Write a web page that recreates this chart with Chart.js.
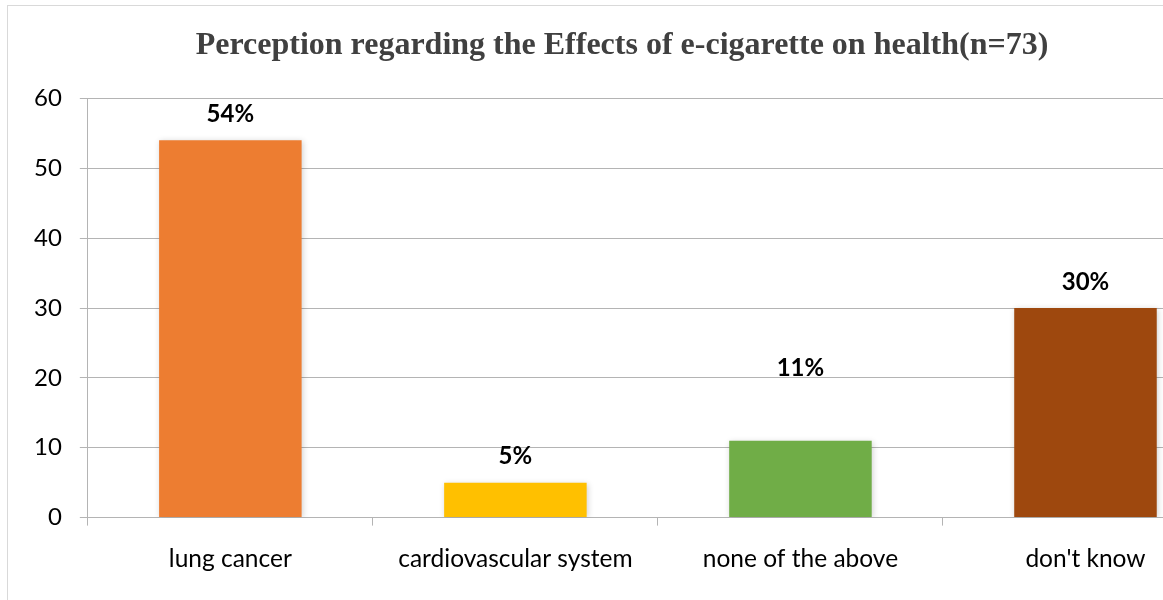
<!DOCTYPE html>
<html>
<head>
<meta charset="utf-8">
<script src="https://cdn.jsdelivr.net/npm/chart.js@4.4.1/dist/chart.umd.min.js"></script>
<style>
  html, body { margin: 0; padding: 0; background: #fff; overflow: hidden; }
  #frame { position: absolute; left: 7px; top: 5px; width: 1300px; height: 620px; border: 1px solid #d9d9d9; box-sizing: border-box; }
  #wrap { position: absolute; left: 0; top: 0; width: 1262px; height: 607px; }
</style>
</head>
<body>
<div id="frame"></div>
<div id="wrap"><canvas id="c" width="1262" height="607"></canvas></div>
<script>
const categories = ["lung cancer", "cardiovascular system", "none of the above", "don't know"];
const values = [54, 5, 11, 30];
const percentLabels = ["54%", "5%", "11%", "30%"];
const yTicks = [0, 10, 20, 30, 40, 50, 60];
const barColors = ["#ED7D31", "#FFC000", "#70AD47", "#9E480E"];
const labelLift = [26, 26, 72, 26];

const shadowPlugin = {
  id: 'shadow',
  beforeDatasetsDraw(chart) {
    const ctx = chart.ctx;
    ctx.save();
    ctx.shadowColor = 'rgba(0,0,0,0.18)';
    ctx.shadowBlur = 6;
    ctx.shadowOffsetX = 1;
    ctx.shadowOffsetY = 1;
  },
  afterDatasetsDraw(chart) {
    chart.ctx.restore();
    const ctx = chart.ctx;
    const meta = chart.getDatasetMeta(0);
    ctx.save();
    ctx.font = 'bold 24px Lato, "Open Sans", sans-serif';
    ctx.fillStyle = '#000';
    ctx.textAlign = 'center';
    ctx.textBaseline = 'middle';
    meta.data.forEach((bar, i) => {
      ctx.fillText(percentLabels[i], bar.x, bar.y - labelLift[i]);
    });
    ctx.restore();
  }
};

new Chart(document.getElementById('c'), {
  type: 'bar',
  data: {
    labels: categories,
    datasets: [{
      data: values,
      backgroundColor: barColors,
      borderWidth: 0,
      categoryPercentage: 1.0,
      barPercentage: 0.5
    }]
  },
  plugins: [shadowPlugin],
  options: {
    responsive: false,
    animation: false,
    devicePixelRatio: 1,
    layout: { padding: { left: 16, right: 34, top: 0, bottom: 14 } },
    plugins: {
      legend: { display: false },
      tooltip: { enabled: false },
      title: {
        display: true,
        text: 'Perception regarding the Effects of e-cigarette on health(n=73)',
        color: '#404040',
        font: { family: '"Liberation Serif", "Times New Roman", serif', size: 32, weight: 'bold' },
        padding: { top: 27, bottom: 33 }
      }
    },
    scales: {
      x: {
        offset: true,
        grid: { display: true, drawOnChartArea: false, drawTicks: true, tickLength: 8, color: '#b4b4b4', offset: true },
        border: { color: '#b4b4b4', width: 1 },
        ticks: { color: '#000', font: { family: 'Lato, "Open Sans", sans-serif', size: 24.5 }, padding: 19, maxRotation: 0 }
      },
      y: {
        min: 0, max: 60,
        afterBuildTicks(axis) { axis.ticks = yTicks.map(v => ({ value: v })); },
        grid: { color: '#b4b4b4', lineWidth: 1, tickLength: 8 },
        border: { color: '#b4b4b4', width: 1 },
        ticks: { color: '#000', font: { family: 'Lato, "Open Sans", sans-serif', size: 24 }, padding: 18 }
      }
    }
  }
});
</script>
</body>
</html>
